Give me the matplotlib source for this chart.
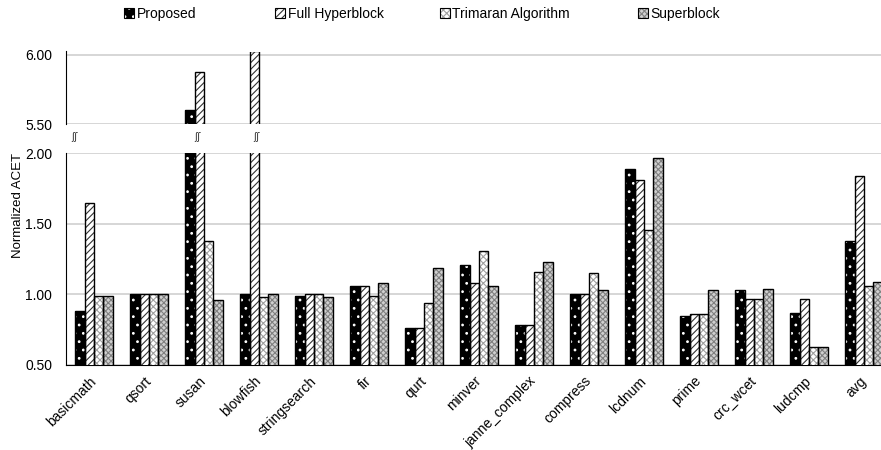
import matplotlib
matplotlib.use("Agg")
import matplotlib.pyplot as plt
from matplotlib.patches import Patch
from matplotlib.legend_handler import HandlerTuple
import numpy as np

plt.rcParams['font.family'] = ['Liberation Sans', 'DejaVu Sans']
plt.rcParams['hatch.linewidth'] = 0.8

categories = ["basicmath", "qsort", "susan", "blowfish", "stringsearch", "fir", "qurt",
              "minver", "janne_complex", "compress", "lcdnum", "prime", "crc_wcet", "ludcmp", "avg"]
series_names = ["Proposed", "Full Hyperblock", "Trimaran Algorithm", "Superblock"]
proposed   = [0.88, 1.00, 5.60, 1.00, 0.99, 1.06, 0.76, 1.21, 0.78, 1.00, 1.89, 0.85, 1.03, 0.87, 1.38]
full_hyper = [1.65, 1.00, 5.88, 6.03, 1.00, 1.06, 0.76, 1.08, 0.78, 1.00, 1.81, 0.86, 0.97, 0.97, 1.84]
trimaran   = [0.99, 1.00, 1.38, 0.98, 1.00, 0.99, 0.94, 1.31, 1.16, 1.15, 1.46, 0.86, 0.97, 0.63, 1.06]
superblock = [0.99, 1.00, 0.96, 1.00, 0.98, 1.08, 1.19, 1.06, 1.23, 1.03, 1.97, 1.03, 1.04, 0.63, 1.09]
series = [proposed, full_hyper, trimaran, superblock]

lower_ticks = [0.50, 1.00, 1.50, 2.00]
upper_ticks = [5.50, 6.00]

styles = [
    dict(face="black", hatchcolor="white", hatch=".."),
    dict(face="white", hatchcolor="#333333", hatch="/////"),
    dict(face="white", hatchcolor="#a0a0a0", hatch="xxxxx"),
    dict(face="#d0d0d0", hatchcolor="#808080", hatch="xxxxxx"),
]

W, H = 881, 450
fig = plt.figure(figsize=(W / 100, H / 100), dpi=100)
left = 66 / W
ax_lo = fig.add_axes([left, (H - 365) / H, 1 - left, (365 - 153.3) / H])
ax_hi = fig.add_axes([left, (H - 124.3) / H, 1 - left, (124.3 - 51.5) / H])

x = np.arange(len(categories))
bw = 0.171
offs = (np.arange(4) - 1.5) * bw

for ax in (ax_lo, ax_hi):
    for i, (vals, st) in enumerate(zip(series, styles)):
        ax.bar(x + offs[i], vals, bw, color=st["face"], edgecolor=st["hatchcolor"],
               hatch=st["hatch"], linewidth=0, zorder=3)
        ax.bar(x + offs[i], vals, bw, fill=False, edgecolor="black", linewidth=1.0, zorder=4)
    ax.set_xlim(-0.509, (881 - 94) / 55)
    ax.grid(axis="y", color="#cfcfcf", linewidth=1.2, zorder=0)
    ax.set_axisbelow(True)
    ax.tick_params(length=0, labelsize=10)
    ax.tick_params(axis="y", pad=10)
    for s in ("top", "right"):
        ax.spines[s].set_visible(False)
    ax.spines["left"].set_color("black")

ax_lo.set_ylim(0.5, 2.0)
ax_lo.set_yticks(lower_ticks)
ax_lo.set_yticklabels([f"{t:.2f}" for t in lower_ticks])
ax_lo.set_xticks(x)
ax_lo.set_xticklabels(categories, rotation=45, ha="right", va="center", rotation_mode="anchor")
ax_lo.tick_params(axis="x", pad=10)
ax_lo.spines["bottom"].set_color("black")

ax_hi.set_ylim(5.5, 6.025)
ax_hi.set_yticks(upper_ticks)
ax_hi.set_yticklabels([f"{t:.2f}" for t in upper_ticks])
ax_hi.set_xticks([])
ax_hi.spines["bottom"].set_visible(False)

# break marks
for xb in [74, 197, 256]:
    fig.text(xb / W, (H - 137) / H, "ʃʃ", fontsize=7, family="DejaVu Sans",
             ha="center", va="center", color="#333333")

fig.text(18 / W, (H - 205) / H, "Normalized ACET", rotation=90, ha="center", va="center", fontsize=9.5)

legend_x = [124, 275, 440, 638]
for name, st, lx in zip(series_names, styles, legend_x):
    h = (Patch(facecolor=st["face"], edgecolor=st["hatchcolor"], hatch=st["hatch"], linewidth=0),
         Patch(fill=False, edgecolor="black", linewidth=0.8))
    fig.legend([h], [name], loc="center left", bbox_to_anchor=(lx / W, (H - 14) / H),
               frameon=False, fontsize=10, handlelength=0.75, handleheight=0.75,
               handletextpad=0.15, borderpad=0, borderaxespad=0,
               handler_map={tuple: HandlerTuple(ndivide=1)})

fig.savefig("out.png", dpi=100)
